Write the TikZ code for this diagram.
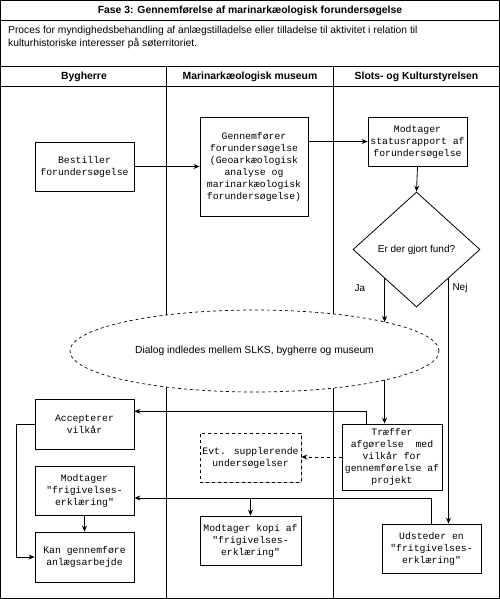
\documentclass[tikz,border=0pt]{standalone}
\usepackage{fontspec}
\setmainfont{Liberation Sans}
\newfontfamily\boxfont{Liberation Mono}
\usetikzlibrary{positioning}
\usetikzlibrary{calc}
\usetikzlibrary{shapes.geometric}
\usetikzlibrary{shadows}
\usetikzlibrary {arrows.meta}

\begin{document}
\begin{tikzpicture}[
    x=1pt, y=-1pt,
    procbox/.style={
        draw, line width=.8pt, fill=white,
        minimum width=99pt, minimum height=49pt,
        align=center, inner sep=1pt,
        font=\boxfont\fontsize{9.8}{12}\selectfont,
        drop shadow={shadow xshift=1.2pt, shadow yshift=-1.2pt, fill=black!45, opacity=.6}
    },
    flow/.style={-{Stealth[length=6pt, width=5pt]}, line width=.8pt},
    lane/.style={line width=.8pt},
    lanehead/.style={font=\bfseries\fontsize{10.4}{12}\selectfont}
]

    \newcommand*{\lanea}{166.7}
    \newcommand*{\laneb}{333.3}

    \useasboundingbox (0,0) rectangle (500,599);

    % Frame and lanes
    \draw[lane] (0.5,0.5) rectangle (499.5,598.5);
    \draw[lane] (0.5,20) -- (499.5,20);
    \draw[lane] (0.5,66) -- (499.5,66);
    \draw[lane] (0.5,86) -- (499.5,86);
    \draw[lane] (\lanea,66) -- (\lanea,598.5);
    \draw[lane] (\laneb,66) -- (\laneb,598.5);

    \node[font=\bfseries\fontsize{10.4}{12}\selectfont] (title) at (250,10.5)
        {Fase 3: Gennemførelse af marinarkæologisk forundersøgelse};
    \node[anchor=north west, align=left, inner sep=0pt, font=\fontsize{10.3}{13}\selectfont] (intro) at (8,25.5)
        {Proces for myndighedsbehandling af anlægstilladelse eller tilladelse til aktivitet i relation til\\
         kulturhistoriske interesser på søterritoriet.};

    \node[lanehead] (hbyg) at (84,77) {Bygherre};
    \node[lanehead] (hmus) at (250,77) {Marinarkæologisk museum};
    \node[lanehead] (hslks) at (416.5,77) {Slots- og Kulturstyrelsen};

    % Boxes
    \node[procbox] (bestil) at (84.5,166.5) {Bestiller\\forundersøgelse};
    \node[procbox, minimum width=108pt, minimum height=99pt] (gennem) at (254,166.5)
        {Gennemfører\\forundersøgelse\\(Geoarkæologisk\\analyse og\\marinarkæologisk\\forundersøgelse)};
    \node[procbox] (status) at (417.5,141.5) {Modtager\\statusrapport af\\forundersøgelse};
    \node[
        draw, diamond, line width=.8pt, fill=white,
        minimum width=127pt, minimum height=115pt, inner sep=0pt,
        font=\fontsize{10}{12}\selectfont
    ] (fund) at (416.5,249.5) {Er der gjort fund?};

    \coordinate (ja) at ($(fund.west)!.5!(fund.south)$);
    \coordinate (nej) at ($(fund.east)!.5!(fund.south)$);

    % Ja line runs behind the dialog
    \draw[flow] (ja) -- (ja |- 0,322);

    \node[
        draw, ellipse, dashed, line width=.7pt, fill=white,
        minimum width=369pt, minimum height=82pt,
        font=\fontsize{10.3}{12}\selectfont
    ] (dialog) at (254.5,351) {Dialog indledes mellem SLKS, bygherre og museum};

    \node[procbox, minimum height=50pt] (accept) at (84.5,424) {Accepterer\\vilkår};
    \node[procbox] (frigiv) at (84.5,490.5) {Modtager\\"frigivelses-\\erklæring"};
    \node[procbox, minimum height=50pt] (anlaeg) at (84.5,557) {Kan gennemføre\\anlægsarbejde};
    \node[procbox, dashed, minimum width=101pt, drop shadow={opacity=0}] (evt) at (250.5,457.5)
        {Evt. supplerende\\undersøgelser};
    \node[procbox, minimum width=101pt] (kopi) at (250.5,540.5) {Modtager kopi af\\"frigivelses-\\erklæring"};
    \node[procbox, minimum width=100pt, minimum height=66pt] (traeffer) at (392,457)
        {Træffer\\afgørelse\ \ med\\vilkår for\\gennemførelse af\\projekt};
    \node[procbox] (udsted) at (431.5,548.5) {Udsteder en\\"fritgivelses-\\erklæring"};

    \node[font=\fontsize{10}{12}\selectfont] (jalbl) at (360,288) {Ja};
    \node[font=\fontsize{10}{12}\selectfont] (nejlbl) at (460,288) {Nej};

    % Flow
    \draw[flow] (bestil.east) -- (gennem.west);
    \draw[flow] (status.west -| gennem.east) -- (status.west);
    \draw[flow] (status.south) -- (fund.north);
    \draw[flow] (nej) -- (nej |- udsted.north);
    \draw[flow] (ja |- 0,380) -- (ja |- traeffer.north);

    \coordinate (accin) at ($(accept.north east)!.25!(accept.south east)$);
    \coordinate (frigin) at ($(frigiv.north east)!.65!(frigiv.south east)$);

    \draw[flow] ($(traeffer.north west)!.25!(traeffer.north east)$) |- (accin);
    \draw[flow, dashed] (traeffer.west) -- (traeffer.west -| evt.east);
    \draw[flow] (udsted.north) |- (frigin);
    \draw[flow] (kopi.north |- frigin) -- (kopi.north);
    \draw[flow] (frigiv.south) -- (anlaeg.north);
    \draw[flow] (accept.west) -- ++(-18,0) |- (anlaeg.west);

\end{tikzpicture}
\end{document}
